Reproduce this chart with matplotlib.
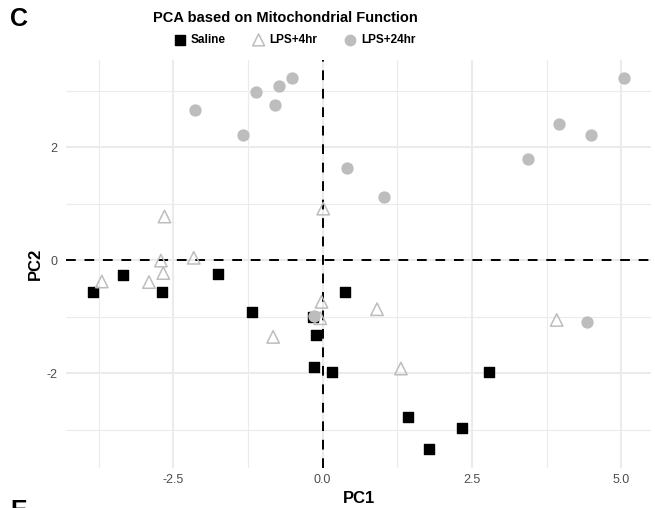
import matplotlib
matplotlib.use("Agg")
import matplotlib.pyplot as plt
import numpy as np

plt.rcParams["font.family"] = ["Liberation Sans", "DejaVu Sans"]
plt.rcParams["axes.unicode_minus"] = False

# PCA scores
saline_pc1 = [-3.85, -3.34, -2.69, -1.76, -1.19, -0.17, -0.11, -0.14, 0.16, 0.37, 2.79, 1.43, 2.33, 1.78]
saline_pc2 = [-0.57, -0.27, -0.57, -0.24, -0.92, -1.00, -1.33, -1.90, -1.99, -0.56, -1.99, -2.77, -2.97, -3.35]

lps4_pc1 = [-2.65, 0.01, -2.71, -2.16, -2.67, -3.70, -2.91, -0.83, -0.02, -0.04, 0.91, 1.31, 3.92]
lps4_pc2 = [0.77, 0.91, -0.01, 0.04, -0.23, -0.38, -0.39, -1.36, -0.74, -1.03, -0.87, -1.92, -1.06]

lps24_pc1 = [-2.14, -1.33, -1.11, -0.80, -0.73, -0.52, 0.41, 1.02, 3.44, 3.96, 4.49, 5.05, -0.14, 4.43]
lps24_pc2 = [2.66, 2.22, 2.97, 2.74, 3.08, 3.23, 1.62, 1.12, 1.79, 2.41, 2.21, 3.23, -0.99, -1.10]

x_ticks = [-2.5, 0.0, 2.5, 5.0]
y_ticks = [-2, 0, 2]

W, H = 655, 508
fig = plt.figure(figsize=(W / 100, H / 100), dpi=100)
ax = fig.add_axes([66 / W, 1 - 468 / H, (651 - 66) / W, (468 - 60) / H])

grid_col = "#ebebeb"
ax.set_xlim(-4.30, 5.50)
ax.set_ylim(-3.68, 3.54)
ax.set_xticks(x_ticks)
ax.set_xticklabels(["%.1f" % t for t in x_ticks])
ax.set_yticks(y_ticks)
ax.set_xticks([-3.75, -1.25, 1.25, 3.75], minor=True)
ax.set_yticks([-3, -1, 1, 3], minor=True)
ax.grid(True, which="major", color=grid_col, linewidth=1.5)
ax.grid(True, which="minor", color=grid_col, linewidth=0.8)
ax.set_axisbelow(True)
for s in ax.spines.values():
    s.set_visible(False)
ax.tick_params(which="both", length=0)
ax.tick_params(axis="both", labelsize=9, labelcolor="#4d4d4d")
ax.tick_params(axis="x", pad=4)
ax.tick_params(axis="y", pad=6)

ax.axhline(0, color="black", linewidth=1.4, dashes=(5, 4.5), zorder=1)
ax.axvline(0, color="black", linewidth=1.4, dashes=(5, 4.5), zorder=1)

ax.scatter(saline_pc1, saline_pc2, marker="s", s=52, color="black", zorder=3, label="Saline")
ax.scatter(lps4_pc1, lps4_pc2, marker="^", s=80, facecolor="none", edgecolor="#bdbdbd",
           linewidth=1.1, zorder=3, label="LPS+4hr")
ax.scatter(lps24_pc1, lps24_pc2, marker="o", s=62, color="#bdbdbd", zorder=3, label="LPS+24hr")

ax.set_xlabel("PC1", fontsize=12, fontweight="bold", labelpad=4)
ax.set_ylabel("PC2", fontsize=12, fontweight="bold", labelpad=3)

fig.text(285 / W, 1 - 18 / H, "PCA based on Mitochondrial Function", ha="center", va="center",
         fontsize=10.5, fontweight="bold")
fig.text(10 / W, 1 - 19 / H, "C", ha="left", va="center", fontsize=18, fontweight="bold")
# next panel's letter, cut by the bottom edge as in the source figure
fig.text(10 / W, 1 - 511 / H, "E", ha="left", va="center", fontsize=18, fontweight="bold")

leg = fig.legend(loc="center", bbox_to_anchor=(294 / W, 1 - 40 / H), ncol=3, frameon=False,
                 prop={"weight": "bold", "size": 8.5}, handletextpad=0.3, columnspacing=2.2,
                 handlelength=1.2, borderaxespad=0, markerscale=0.95)

fig.savefig("out.png", dpi=100)
